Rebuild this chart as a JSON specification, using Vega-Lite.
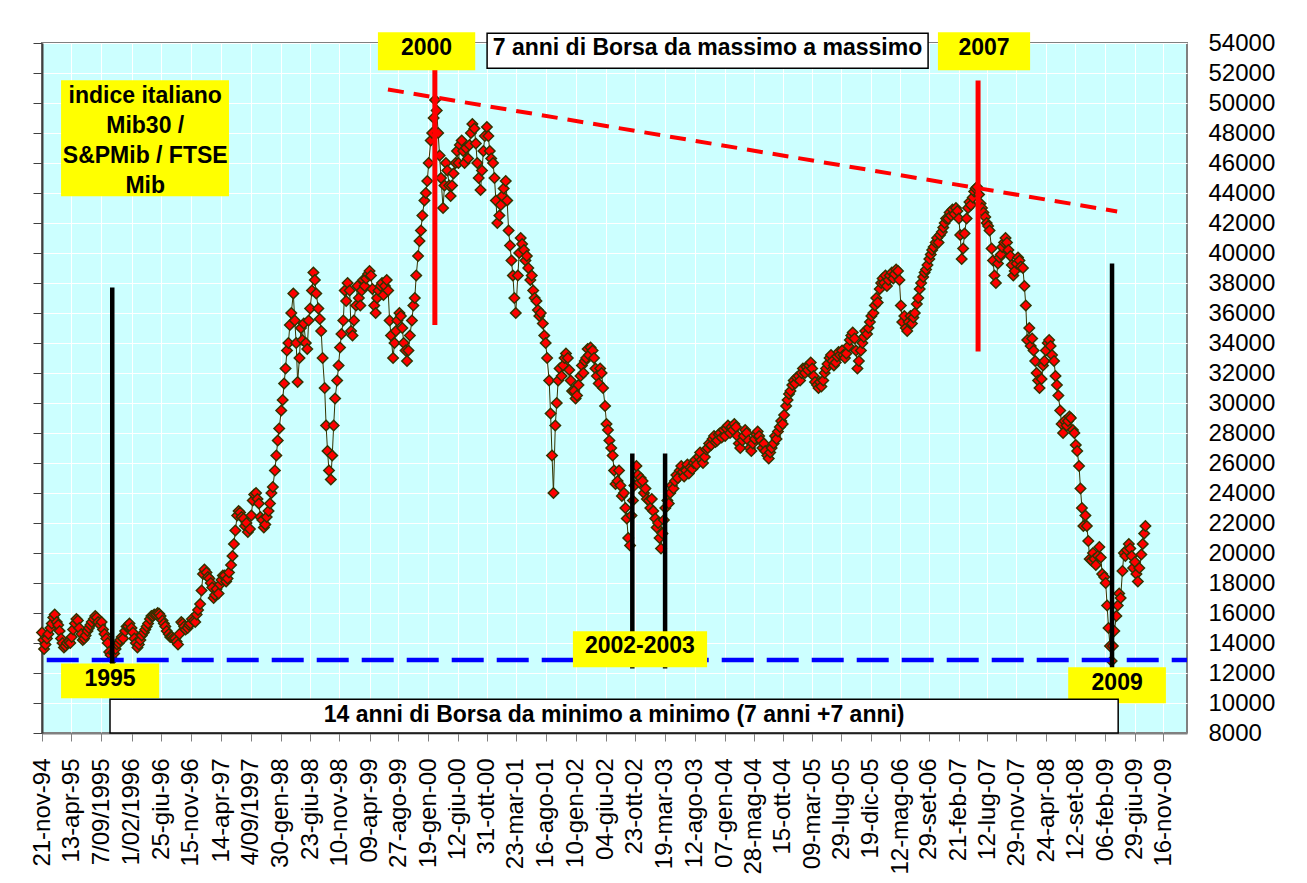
{
  "$schema": "https://vega.github.io/schema/vega-lite/v6.json",
  "width": 1145,
  "height": 690,
  "autosize": {"type": "none"},
  "padding": {"left": 42, "top": 43, "right": 120, "bottom": 150},
  "background": "white",
  "config": {
    "view": {"fill": "#CCFFFF", "stroke": "#808080", "strokeWidth": 2},
    "font": "Liberation Sans"
  },
  "datasets": {
    "mib": [
      {"d":"1994-11-21","v":14700},{"d":"1994-11-28","v":14200},{"d":"1994-12-01","v":13600},{"d":"1994-12-08","v":13900},{"d":"1994-12-15","v":14300},{"d":"1994-12-22","v":14600},
      {"d":"1995-01-01","v":15000},{"d":"1995-01-08","v":15300},{"d":"1995-01-15","v":15700},{"d":"1995-01-22","v":15900},{"d":"1995-02-01","v":15400},{"d":"1995-02-08","v":15200},{"d":"1995-02-15","v":14800},{"d":"1995-02-22","v":14300},
      {"d":"1995-03-01","v":14000},{"d":"1995-03-08","v":13700},{"d":"1995-03-15","v":13800},{"d":"1995-03-22","v":14000},{"d":"1995-04-01","v":14100},{"d":"1995-04-08","v":14000},{"d":"1995-04-15","v":14400},{"d":"1995-04-22","v":14900},
      {"d":"1995-05-01","v":15300},{"d":"1995-05-08","v":15600},{"d":"1995-05-15","v":15500},{"d":"1995-05-22","v":15000},{"d":"1995-06-01","v":14600},{"d":"1995-06-08","v":14200},{"d":"1995-06-15","v":14300},{"d":"1995-06-22","v":14500},
      {"d":"1995-07-01","v":14800},{"d":"1995-07-08","v":15000},{"d":"1995-07-15","v":15200},{"d":"1995-07-22","v":15400},{"d":"1995-08-01","v":15600},{"d":"1995-08-08","v":15800},{"d":"1995-08-15","v":15700},{"d":"1995-08-22","v":15400},
      {"d":"1995-09-01","v":15200},{"d":"1995-09-08","v":15400},{"d":"1995-09-15","v":14900},{"d":"1995-09-22","v":14600},{"d":"1995-10-01","v":14300},{"d":"1995-10-08","v":14000},{"d":"1995-10-15","v":13400},{"d":"1995-10-22","v":13200},
      {"d":"1995-11-01","v":12900},{"d":"1995-11-08","v":13300},{"d":"1995-11-15","v":13600},{"d":"1995-11-22","v":13900},{"d":"1995-12-01","v":14000},{"d":"1995-12-08","v":14200},{"d":"1995-12-15","v":14400},{"d":"1995-12-22","v":14300},
      {"d":"1996-01-01","v":14800},{"d":"1996-01-08","v":15100},{"d":"1996-01-15","v":15100},{"d":"1996-01-22","v":15300},{"d":"1996-02-01","v":15000},{"d":"1996-02-08","v":14700},{"d":"1996-02-15","v":14300},{"d":"1996-02-22","v":14000},
      {"d":"1996-03-01","v":13700},{"d":"1996-03-08","v":13900},{"d":"1996-03-15","v":14200},{"d":"1996-03-22","v":14500},{"d":"1996-04-01","v":14700},{"d":"1996-04-08","v":14900},{"d":"1996-04-15","v":15100},{"d":"1996-04-22","v":15300},
      {"d":"1996-05-01","v":15600},{"d":"1996-05-08","v":15800},{"d":"1996-05-15","v":15800},{"d":"1996-05-22","v":15900},{"d":"1996-06-01","v":15900},{"d":"1996-06-08","v":16000},{"d":"1996-06-15","v":15950},{"d":"1996-06-22","v":15800},
      {"d":"1996-07-01","v":15500},{"d":"1996-07-08","v":15300},{"d":"1996-07-15","v":15100},{"d":"1996-07-22","v":14800},{"d":"1996-08-01","v":14600},{"d":"1996-08-08","v":14400},{"d":"1996-08-15","v":14400},{"d":"1996-08-22","v":14300},
      {"d":"1996-09-01","v":14300},{"d":"1996-09-08","v":14100},{"d":"1996-09-15","v":13900},{"d":"1996-09-22","v":14600},{"d":"1996-10-01","v":15400},{"d":"1996-10-08","v":15300},{"d":"1996-10-15","v":15100},{"d":"1996-10-22","v":14900},
      {"d":"1996-11-01","v":15000},{"d":"1996-11-08","v":15200},{"d":"1996-11-15","v":15300},{"d":"1996-11-22","v":15600},{"d":"1996-12-01","v":15500},{"d":"1996-12-08","v":15400},{"d":"1996-12-15","v":15900},{"d":"1996-12-22","v":16200},
      {"d":"1997-01-01","v":16600},{"d":"1997-01-08","v":17500},{"d":"1997-01-15","v":18600},{"d":"1997-01-22","v":18900},{"d":"1997-02-01","v":18700},{"d":"1997-02-08","v":18400},{"d":"1997-02-15","v":18300},{"d":"1997-02-22","v":18000},
      {"d":"1997-03-01","v":17700},{"d":"1997-03-08","v":17000},{"d":"1997-03-15","v":17200},{"d":"1997-03-22","v":17600},{"d":"1997-04-01","v":17300},{"d":"1997-04-08","v":17900},{"d":"1997-04-15","v":18200},{"d":"1997-04-22","v":18500},
      {"d":"1997-05-01","v":18500},{"d":"1997-05-08","v":18100},{"d":"1997-05-15","v":18300},{"d":"1997-05-22","v":18700},{"d":"1997-06-01","v":19200},{"d":"1997-06-08","v":19800},{"d":"1997-06-15","v":20600},{"d":"1997-06-22","v":21500},
      {"d":"1997-07-01","v":22500},{"d":"1997-07-08","v":22800},{"d":"1997-07-15","v":22700},{"d":"1997-07-22","v":22400},{"d":"1997-08-01","v":22300},{"d":"1997-08-08","v":21800},{"d":"1997-08-15","v":22000},{"d":"1997-08-22","v":21400},
      {"d":"1997-09-01","v":21600},{"d":"1997-09-08","v":22500},{"d":"1997-09-15","v":23500},{"d":"1997-09-22","v":23900},{"d":"1997-10-01","v":24000},{"d":"1997-10-08","v":23600},{"d":"1997-10-15","v":23300},{"d":"1997-10-22","v":22400},
      {"d":"1997-11-01","v":22200},{"d":"1997-11-08","v":21700},{"d":"1997-11-15","v":21900},{"d":"1997-11-22","v":22400},{"d":"1997-12-01","v":22800},{"d":"1997-12-08","v":23300},{"d":"1997-12-15","v":24000},{"d":"1997-12-22","v":24400},
      {"d":"1998-01-01","v":25500},{"d":"1998-01-08","v":26500},{"d":"1998-01-15","v":27500},{"d":"1998-01-22","v":28300},{"d":"1998-02-01","v":29500},{"d":"1998-02-08","v":30200},{"d":"1998-02-15","v":31300},{"d":"1998-02-22","v":32300},
      {"d":"1998-03-01","v":33500},{"d":"1998-03-08","v":34000},{"d":"1998-03-15","v":35200},{"d":"1998-03-22","v":36000},{"d":"1998-04-01","v":37300},{"d":"1998-04-08","v":35500},{"d":"1998-04-15","v":34000},{"d":"1998-04-22","v":31400},
      {"d":"1998-05-01","v":33000},{"d":"1998-05-08","v":35000},{"d":"1998-05-15","v":34200},{"d":"1998-05-22","v":35300},{"d":"1998-06-01","v":34000},{"d":"1998-06-08","v":33600},{"d":"1998-06-15","v":35500},{"d":"1998-06-22","v":36300},
      {"d":"1998-07-01","v":37500},{"d":"1998-07-08","v":38700},{"d":"1998-07-15","v":38200},{"d":"1998-07-22","v":37300},{"d":"1998-08-01","v":36300},{"d":"1998-08-08","v":35600},{"d":"1998-08-15","v":34800},{"d":"1998-08-22","v":33000},
      {"d":"1998-09-01","v":31000},{"d":"1998-09-08","v":28500},{"d":"1998-09-15","v":26800},{"d":"1998-09-22","v":25500},{"d":"1998-10-01","v":24900},{"d":"1998-10-08","v":26500},{"d":"1998-10-15","v":28500},{"d":"1998-10-22","v":30300},
      {"d":"1998-11-01","v":31500},{"d":"1998-11-08","v":32500},{"d":"1998-11-15","v":33700},{"d":"1998-11-22","v":34600},{"d":"1998-12-01","v":35500},{"d":"1998-12-08","v":37500},{"d":"1998-12-15","v":36800},{"d":"1998-12-22","v":38000},
      {"d":"1999-01-01","v":37500},{"d":"1999-01-08","v":34800},{"d":"1999-01-15","v":34500},{"d":"1999-01-22","v":35500},{"d":"1999-02-01","v":36500},{"d":"1999-02-08","v":37800},{"d":"1999-02-15","v":37000},{"d":"1999-02-22","v":36500},
      {"d":"1999-03-01","v":37500},{"d":"1999-03-08","v":38200},{"d":"1999-03-15","v":37800},{"d":"1999-03-22","v":38300},{"d":"1999-04-01","v":38600},{"d":"1999-04-08","v":38800},{"d":"1999-04-15","v":38500},{"d":"1999-04-22","v":37600},
      {"d":"1999-05-01","v":36500},{"d":"1999-05-08","v":36000},{"d":"1999-05-15","v":37000},{"d":"1999-05-22","v":37500},{"d":"1999-06-01","v":37800},{"d":"1999-06-08","v":38000},{"d":"1999-06-15","v":37200},{"d":"1999-06-22","v":37800},
      {"d":"1999-07-01","v":38200},{"d":"1999-07-08","v":37500},{"d":"1999-07-15","v":35500},{"d":"1999-07-22","v":34500},{"d":"1999-08-01","v":33000},{"d":"1999-08-08","v":34000},{"d":"1999-08-15","v":34800},{"d":"1999-08-22","v":35500},
      {"d":"1999-09-01","v":36000},{"d":"1999-09-08","v":35800},{"d":"1999-09-15","v":35000},{"d":"1999-09-22","v":34000},{"d":"1999-10-01","v":33500},{"d":"1999-10-08","v":32800},{"d":"1999-10-15","v":33500},{"d":"1999-10-22","v":34500},
      {"d":"1999-11-01","v":35500},{"d":"1999-11-08","v":36500},{"d":"1999-11-15","v":37000},{"d":"1999-11-22","v":38500},{"d":"1999-12-01","v":39800},{"d":"1999-12-08","v":40800},{"d":"1999-12-15","v":41500},{"d":"1999-12-22","v":42500},
      {"d":"2000-01-01","v":43500},{"d":"2000-01-08","v":44000},{"d":"2000-01-15","v":44800},{"d":"2000-01-22","v":46000},{"d":"2000-02-01","v":47500},{"d":"2000-02-08","v":48000},{"d":"2000-02-15","v":49000},{"d":"2000-02-22","v":50200},
      {"d":"2000-03-01","v":49500},{"d":"2000-03-08","v":48000},{"d":"2000-03-15","v":46500},{"d":"2000-03-22","v":45000},{"d":"2000-04-01","v":43000},{"d":"2000-04-08","v":44500},{"d":"2000-04-15","v":46000},{"d":"2000-04-22","v":45500},
      {"d":"2000-05-01","v":44500},{"d":"2000-05-08","v":43800},{"d":"2000-05-15","v":44500},{"d":"2000-05-22","v":45300},{"d":"2000-06-01","v":46000},{"d":"2000-06-08","v":46800},{"d":"2000-06-15","v":46000},{"d":"2000-06-22","v":47200},
      {"d":"2000-07-01","v":47500},{"d":"2000-07-08","v":46800},{"d":"2000-07-15","v":46000},{"d":"2000-07-22","v":47000},{"d":"2000-08-01","v":46300},{"d":"2000-08-08","v":47200},{"d":"2000-08-15","v":48000},{"d":"2000-08-22","v":48600},
      {"d":"2000-09-01","v":48300},{"d":"2000-09-08","v":47300},{"d":"2000-09-15","v":46000},{"d":"2000-09-22","v":45000},{"d":"2000-10-01","v":44200},{"d":"2000-10-08","v":45500},{"d":"2000-10-15","v":46800},{"d":"2000-10-22","v":47800},
      {"d":"2000-11-01","v":48400},{"d":"2000-11-08","v":47800},{"d":"2000-11-15","v":46800},{"d":"2000-11-22","v":46300},{"d":"2000-12-01","v":46000},{"d":"2000-12-08","v":45000},{"d":"2000-12-15","v":43500},{"d":"2000-12-22","v":42000},
      {"d":"2001-01-01","v":42500},{"d":"2001-01-08","v":43200},{"d":"2001-01-15","v":43800},{"d":"2001-01-22","v":44300},{"d":"2001-02-01","v":44800},{"d":"2001-02-08","v":43500},{"d":"2001-02-15","v":41500},{"d":"2001-02-22","v":40500},
      {"d":"2001-03-01","v":39500},{"d":"2001-03-08","v":38500},{"d":"2001-03-15","v":37000},{"d":"2001-03-22","v":36000},{"d":"2001-04-01","v":38500},{"d":"2001-04-08","v":40000},{"d":"2001-04-15","v":41000},{"d":"2001-04-22","v":40600},
      {"d":"2001-05-01","v":40200},{"d":"2001-05-08","v":39500},{"d":"2001-05-15","v":39800},{"d":"2001-05-22","v":39000},{"d":"2001-06-01","v":38200},{"d":"2001-06-08","v":38500},{"d":"2001-06-15","v":37500},{"d":"2001-06-22","v":37000},
      {"d":"2001-07-01","v":36800},{"d":"2001-07-08","v":36200},{"d":"2001-07-15","v":35800},{"d":"2001-07-22","v":36000},{"d":"2001-08-01","v":35300},{"d":"2001-08-08","v":34500},{"d":"2001-08-15","v":34000},{"d":"2001-08-22","v":33000},
      {"d":"2001-09-01","v":31500},{"d":"2001-09-08","v":29300},{"d":"2001-09-15","v":26500},{"d":"2001-09-22","v":24000},{"d":"2001-10-01","v":28500},{"d":"2001-10-08","v":30000},{"d":"2001-10-15","v":31500},{"d":"2001-10-22","v":32300},
      {"d":"2001-11-01","v":31800},{"d":"2001-11-08","v":32500},{"d":"2001-11-15","v":33000},{"d":"2001-11-22","v":33300},{"d":"2001-12-01","v":33000},{"d":"2001-12-08","v":32200},{"d":"2001-12-15","v":31500},{"d":"2001-12-22","v":30800},
      {"d":"2002-01-01","v":30800},{"d":"2002-01-08","v":30300},{"d":"2002-01-15","v":30500},{"d":"2002-01-22","v":31200},{"d":"2002-02-01","v":31800},{"d":"2002-02-08","v":32500},{"d":"2002-02-15","v":32000},{"d":"2002-02-22","v":32800},
      {"d":"2002-03-01","v":33000},{"d":"2002-03-08","v":33600},{"d":"2002-03-15","v":33200},{"d":"2002-03-22","v":33700},{"d":"2002-04-01","v":33500},{"d":"2002-04-08","v":33000},{"d":"2002-04-15","v":32300},{"d":"2002-04-22","v":31800},
      {"d":"2002-05-01","v":31300},{"d":"2002-05-08","v":32300},{"d":"2002-05-15","v":32000},{"d":"2002-05-22","v":31000},{"d":"2002-06-01","v":29800},{"d":"2002-06-08","v":28600},{"d":"2002-06-15","v":28200},{"d":"2002-06-22","v":27500},
      {"d":"2002-07-01","v":27000},{"d":"2002-07-08","v":26500},{"d":"2002-07-15","v":25500},{"d":"2002-07-22","v":24600},{"d":"2002-08-01","v":24800},{"d":"2002-08-08","v":25500},{"d":"2002-08-15","v":24500},{"d":"2002-08-22","v":23800},
      {"d":"2002-09-01","v":24000},{"d":"2002-09-08","v":23000},{"d":"2002-09-15","v":22300},{"d":"2002-09-22","v":21000},{"d":"2002-10-01","v":20500},{"d":"2002-10-08","v":22500},{"d":"2002-10-15","v":23500},{"d":"2002-10-22","v":24500},
      {"d":"2002-11-01","v":25800},{"d":"2002-11-08","v":25200},{"d":"2002-11-15","v":24700},{"d":"2002-11-22","v":25000},{"d":"2002-12-01","v":24800},{"d":"2002-12-08","v":24000},{"d":"2002-12-15","v":24300},{"d":"2002-12-22","v":23600},
      {"d":"2003-01-01","v":23500},{"d":"2003-01-08","v":23000},{"d":"2003-01-15","v":23600},{"d":"2003-01-22","v":22800},{"d":"2003-02-01","v":22300},{"d":"2003-02-08","v":21700},{"d":"2003-02-15","v":22000},{"d":"2003-02-22","v":21000},
      {"d":"2003-03-01","v":20300},{"d":"2003-03-08","v":21300},{"d":"2003-03-15","v":22200},{"d":"2003-03-22","v":23000},{"d":"2003-04-01","v":23500},{"d":"2003-04-08","v":23300},{"d":"2003-04-15","v":24000},{"d":"2003-04-22","v":24500},
      {"d":"2003-05-01","v":24300},{"d":"2003-05-08","v":24800},{"d":"2003-05-15","v":25200},{"d":"2003-05-22","v":25000},{"d":"2003-06-01","v":25500},{"d":"2003-06-08","v":25800},{"d":"2003-06-15","v":25400},{"d":"2003-06-22","v":25100},
      {"d":"2003-07-01","v":25500},{"d":"2003-07-08","v":25900},{"d":"2003-07-15","v":25300},{"d":"2003-07-22","v":25700},{"d":"2003-08-01","v":25600},{"d":"2003-08-08","v":26000},{"d":"2003-08-15","v":26200},{"d":"2003-08-22","v":25900},
      {"d":"2003-09-01","v":26400},{"d":"2003-09-08","v":26700},{"d":"2003-09-15","v":26200},{"d":"2003-09-22","v":26000},{"d":"2003-10-01","v":26400},{"d":"2003-10-08","v":26900},{"d":"2003-10-15","v":27000},{"d":"2003-10-22","v":27300},
      {"d":"2003-11-01","v":27200},{"d":"2003-11-08","v":27600},{"d":"2003-11-15","v":27800},{"d":"2003-11-22","v":27400},{"d":"2003-12-01","v":27500},{"d":"2003-12-08","v":27900},{"d":"2003-12-15","v":28000},{"d":"2003-12-22","v":27700},
      {"d":"2004-01-01","v":28200},{"d":"2004-01-08","v":27800},{"d":"2004-01-15","v":28300},{"d":"2004-01-22","v":28500},{"d":"2004-02-01","v":28000},{"d":"2004-02-08","v":28400},{"d":"2004-02-15","v":28200},{"d":"2004-02-22","v":28600},
      {"d":"2004-03-01","v":28400},{"d":"2004-03-08","v":27800},{"d":"2004-03-15","v":27300},{"d":"2004-03-22","v":27000},{"d":"2004-04-01","v":27500},{"d":"2004-04-08","v":27800},{"d":"2004-04-15","v":28200},{"d":"2004-04-22","v":28000},
      {"d":"2004-05-01","v":27500},{"d":"2004-05-08","v":27000},{"d":"2004-05-15","v":26800},{"d":"2004-05-22","v":27300},{"d":"2004-06-01","v":27600},{"d":"2004-06-08","v":27900},{"d":"2004-06-15","v":28100},{"d":"2004-06-22","v":27800},
      {"d":"2004-07-01","v":27500},{"d":"2004-07-08","v":27000},{"d":"2004-07-15","v":27300},{"d":"2004-07-22","v":26800},{"d":"2004-08-01","v":26500},{"d":"2004-08-08","v":26300},{"d":"2004-08-15","v":26700},{"d":"2004-08-22","v":27000},
      {"d":"2004-09-01","v":27300},{"d":"2004-09-08","v":27800},{"d":"2004-09-15","v":27600},{"d":"2004-09-22","v":28100},{"d":"2004-10-01","v":28400},{"d":"2004-10-08","v":28800},{"d":"2004-10-15","v":28600},{"d":"2004-10-22","v":29200},
      {"d":"2004-11-01","v":29800},{"d":"2004-11-08","v":30200},{"d":"2004-11-15","v":30600},{"d":"2004-11-22","v":30800},{"d":"2004-12-01","v":31200},{"d":"2004-12-08","v":31500},{"d":"2004-12-15","v":31300},{"d":"2004-12-22","v":31700},
      {"d":"2005-01-01","v":31800},{"d":"2005-01-08","v":31500},{"d":"2005-01-15","v":32000},{"d":"2005-01-22","v":32300},{"d":"2005-02-01","v":32000},{"d":"2005-02-08","v":32400},{"d":"2005-02-15","v":32200},{"d":"2005-02-22","v":32500},
      {"d":"2005-03-01","v":32700},{"d":"2005-03-08","v":32300},{"d":"2005-03-15","v":31800},{"d":"2005-03-22","v":31400},{"d":"2005-04-01","v":31200},{"d":"2005-04-08","v":31000},{"d":"2005-04-15","v":31400},{"d":"2005-04-22","v":31100},
      {"d":"2005-05-01","v":31500},{"d":"2005-05-08","v":32000},{"d":"2005-05-15","v":32300},{"d":"2005-05-22","v":32600},{"d":"2005-06-01","v":33000},{"d":"2005-06-08","v":33200},{"d":"2005-06-15","v":32800},{"d":"2005-06-22","v":32500},
      {"d":"2005-07-01","v":32700},{"d":"2005-07-08","v":33100},{"d":"2005-07-15","v":33400},{"d":"2005-07-22","v":33200},{"d":"2005-08-01","v":33500},{"d":"2005-08-08","v":33200},{"d":"2005-08-15","v":33000},{"d":"2005-08-22","v":33300},
      {"d":"2005-09-01","v":33800},{"d":"2005-09-08","v":34200},{"d":"2005-09-15","v":34500},{"d":"2005-09-22","v":34700},{"d":"2005-10-01","v":34300},{"d":"2005-10-08","v":33500},{"d":"2005-10-15","v":32300},{"d":"2005-10-22","v":32800},
      {"d":"2005-11-01","v":33500},{"d":"2005-11-08","v":34000},{"d":"2005-11-15","v":34400},{"d":"2005-11-22","v":34800},{"d":"2005-12-01","v":34600},{"d":"2005-12-08","v":35000},{"d":"2005-12-15","v":35400},{"d":"2005-12-22","v":35800},
      {"d":"2006-01-01","v":36000},{"d":"2006-01-08","v":36500},{"d":"2006-01-15","v":37000},{"d":"2006-01-22","v":36700},{"d":"2006-02-01","v":37600},{"d":"2006-02-08","v":38000},{"d":"2006-02-15","v":38300},{"d":"2006-02-22","v":38000},
      {"d":"2006-03-01","v":38500},{"d":"2006-03-08","v":37800},{"d":"2006-03-15","v":38200},{"d":"2006-03-22","v":38500},{"d":"2006-04-01","v":38700},{"d":"2006-04-08","v":38300},{"d":"2006-04-15","v":38600},{"d":"2006-04-22","v":38900},
      {"d":"2006-05-01","v":38800},{"d":"2006-05-08","v":38200},{"d":"2006-05-15","v":36500},{"d":"2006-05-22","v":35400},{"d":"2006-06-01","v":35800},{"d":"2006-06-08","v":35000},{"d":"2006-06-15","v":34800},{"d":"2006-06-22","v":35400},
      {"d":"2006-07-01","v":35800},{"d":"2006-07-08","v":35300},{"d":"2006-07-15","v":35700},{"d":"2006-07-22","v":36000},{"d":"2006-08-01","v":36600},{"d":"2006-08-08","v":37000},{"d":"2006-08-15","v":37600},{"d":"2006-08-22","v":38000},
      {"d":"2006-09-01","v":38400},{"d":"2006-09-08","v":38700},{"d":"2006-09-15","v":38900},{"d":"2006-09-22","v":39200},{"d":"2006-10-01","v":39600},{"d":"2006-10-08","v":39900},{"d":"2006-10-15","v":40200},{"d":"2006-10-22","v":40400},
      {"d":"2006-11-01","v":40700},{"d":"2006-11-08","v":41000},{"d":"2006-11-15","v":40700},{"d":"2006-11-22","v":41200},{"d":"2006-12-01","v":41400},{"d":"2006-12-08","v":41700},{"d":"2006-12-15","v":42000},{"d":"2006-12-22","v":42300},
      {"d":"2007-01-01","v":42300},{"d":"2007-01-08","v":42700},{"d":"2007-01-15","v":42500},{"d":"2007-01-22","v":42900},{"d":"2007-02-01","v":42600},{"d":"2007-02-08","v":43000},{"d":"2007-02-15","v":42800},{"d":"2007-02-22","v":42300},
      {"d":"2007-03-01","v":41200},{"d":"2007-03-08","v":39600},{"d":"2007-03-15","v":40300},{"d":"2007-03-22","v":41300},{"d":"2007-04-01","v":42300},{"d":"2007-04-08","v":43000},{"d":"2007-04-15","v":43400},{"d":"2007-04-22","v":43200},
      {"d":"2007-05-01","v":43700},{"d":"2007-05-08","v":44100},{"d":"2007-05-15","v":44300},{"d":"2007-05-22","v":44400},{"d":"2007-06-01","v":43900},{"d":"2007-06-08","v":43300},{"d":"2007-06-15","v":43000},{"d":"2007-06-22","v":42700},
      {"d":"2007-07-01","v":42400},{"d":"2007-07-08","v":42000},{"d":"2007-07-15","v":41800},{"d":"2007-07-22","v":41500},{"d":"2007-08-01","v":40300},{"d":"2007-08-08","v":39500},{"d":"2007-08-15","v":38500},{"d":"2007-08-22","v":38000},
      {"d":"2007-09-01","v":39300},{"d":"2007-09-08","v":39700},{"d":"2007-09-15","v":39900},{"d":"2007-09-22","v":40400},{"d":"2007-10-01","v":40700},{"d":"2007-10-08","v":41000},{"d":"2007-10-15","v":40700},{"d":"2007-10-22","v":40200},
      {"d":"2007-11-01","v":39800},{"d":"2007-11-08","v":39200},{"d":"2007-11-15","v":38500},{"d":"2007-11-22","v":38800},{"d":"2007-12-01","v":39300},{"d":"2007-12-08","v":39700},{"d":"2007-12-15","v":39500},{"d":"2007-12-22","v":39100},
      {"d":"2008-01-01","v":39000},{"d":"2008-01-08","v":37800},{"d":"2008-01-15","v":36500},{"d":"2008-01-22","v":34200},{"d":"2008-02-01","v":35000},{"d":"2008-02-08","v":33800},{"d":"2008-02-15","v":34300},{"d":"2008-02-22","v":33500},
      {"d":"2008-03-01","v":32800},{"d":"2008-03-08","v":32000},{"d":"2008-03-15","v":31500},{"d":"2008-03-22","v":31000},{"d":"2008-04-01","v":31600},{"d":"2008-04-08","v":32500},{"d":"2008-04-15","v":32800},{"d":"2008-04-22","v":33500},
      {"d":"2008-05-01","v":34000},{"d":"2008-05-08","v":34200},{"d":"2008-05-15","v":33800},{"d":"2008-05-22","v":33200},{"d":"2008-06-01","v":32800},{"d":"2008-06-08","v":31800},{"d":"2008-06-15","v":31200},{"d":"2008-06-22","v":30500},
      {"d":"2008-07-01","v":29500},{"d":"2008-07-08","v":28600},{"d":"2008-07-15","v":28000},{"d":"2008-07-22","v":28800},{"d":"2008-08-01","v":28500},{"d":"2008-08-08","v":28800},{"d":"2008-08-15","v":29100},{"d":"2008-08-22","v":29000},
      {"d":"2008-09-01","v":28200},{"d":"2008-09-08","v":28000},{"d":"2008-09-15","v":27200},{"d":"2008-09-22","v":26800},{"d":"2008-10-01","v":25800},{"d":"2008-10-08","v":24300},{"d":"2008-10-15","v":23000},{"d":"2008-10-22","v":21800},
      {"d":"2008-11-01","v":22500},{"d":"2008-11-08","v":21800},{"d":"2008-11-15","v":20800},{"d":"2008-11-22","v":19600},{"d":"2008-12-01","v":19500},{"d":"2008-12-08","v":20000},{"d":"2008-12-15","v":19600},{"d":"2008-12-22","v":19200},
      {"d":"2009-01-01","v":19800},{"d":"2009-01-08","v":20400},{"d":"2009-01-15","v":19700},{"d":"2009-01-22","v":18600},{"d":"2009-02-01","v":18400},{"d":"2009-02-08","v":18000},{"d":"2009-02-15","v":16500},{"d":"2009-02-22","v":15000},
      {"d":"2009-03-01","v":13800},{"d":"2009-03-09","v":12800},{"d":"2009-03-15","v":13800},{"d":"2009-03-22","v":14800},{"d":"2009-04-01","v":15800},{"d":"2009-04-08","v":16500},{"d":"2009-04-15","v":17300},{"d":"2009-04-22","v":17000},
      {"d":"2009-05-01","v":18800},{"d":"2009-05-08","v":20000},{"d":"2009-05-15","v":19800},{"d":"2009-05-22","v":20200},{"d":"2009-06-01","v":20600},{"d":"2009-06-08","v":20300},{"d":"2009-06-15","v":19800},{"d":"2009-06-22","v":19000},
      {"d":"2009-07-01","v":19400},{"d":"2009-07-08","v":18600},{"d":"2009-07-15","v":18100},{"d":"2009-07-22","v":19000},{"d":"2009-08-01","v":19900},{"d":"2009-08-08","v":20600},{"d":"2009-08-15","v":21300},{"d":"2009-08-21","v":21800}
    ]
  },
  "layer": [
    {
      "data": {"name": "mib"},
      "mark": {"type": "line", "color": "#333300", "strokeWidth": 1},
      "encoding": {
        "x": {
          "field": "d", "type": "temporal",
          "scale": {"type": "utc", "domain": [785376000000, 1268352000000]},
          "axis": {
            "orient": "bottom", "title": null,
            "values": [785376000000,797731200000,810432000000,823132800000,835660800000,848016000000,860976000000,873331200000,886118400000,898560000000,910656000000,923616000000,935712000000,948240000000,960768000000,972950400000,985305600000,997920000000,1010620800000,1023148800000,1035331200000,1048032000000,1060646400000,1073433600000,1085702400000,1097798400000,1110326400000,1122595200000,1134950400000,1147392000000,1159488000000,1172016000000,1184198400000,1196294400000,1208995200000,1221177600000,1233878400000,1246233600000,1258329600000],
            "labelExpr": "['21-nov-94','13-apr-95','7/09/1995','1/02/1996','25-giu-96','15-nov-96','14-apr-97','4/09/1997','30-gen-98','23-giu-98','10-nov-98','09-apr-99','27-ago-99','19-gen-00','12-giu-00','31-ott-00','23-mar-01','16-ago-01','10-gen-02','04-giu-02','23-ott-02','19-mar-03','12-ago-03','07-gen-04','28-mag-04','15-ott-04','09-mar-05','29-lug-05','19-dic-05','12-mag-06','29-set-06','21-feb-07','12-lug-07','29-nov-07','24-apr-08','12-set-08','06-feb-09','29-giu-09','16-nov-09'][indexof([0,143,290,437,582,725,875,1018,1166,1310,1450,1600,1740,1885,2030,2171,2314,2460,2607,2752,2893,3040,3186,3334,3476,3616,3761,3903,4046,4190,4330,4475,4616,4756,4903,5044,5191,5334,5474], round((datum.value - 785376000000) / 86400000))]",
            "labelAngle": 270, "labelFontSize": 24, "labelFont": "Liberation Sans", "labelColor": "black",
            "labelPadding": 17, "labelFlush": false, "labelOverlap": false, "labelBound": false,
            "tickSize": 8, "tickColor": "#808080", "tickWidth": 1,
            "domainColor": "#808080", "domainWidth": 2,
            "grid": true, "gridColor": "white", "gridWidth": 1
          }
        },
        "y": {
          "field": "v", "type": "quantitative",
          "scale": {"domain": [8000, 54000], "nice": false, "zero": false},
          "axis": {
            "orient": "left", "title": null, "labels": false,
            "values": [8000,10000,12000,14000,16000,18000,20000,22000,24000,26000,28000,30000,32000,34000,36000,38000,40000,42000,44000,46000,48000,50000,52000,54000],
            "tickSize": 9, "tickColor": "#404040", "tickWidth": 1,
            "domainColor": "#404040", "domainWidth": 2, "grid": false
          }
        }
      }
    },
    {
      "data": {"name": "mib"},
      "mark": {"type": "point", "shape": "diamond", "filled": true, "fill": "#FF0000", "stroke": "#333300", "strokeWidth": 1.5, "size": 110, "opacity": 1},
      "encoding": {
        "x": {"field": "d", "type": "temporal", "axis": null},
        "y": {
          "field": "v", "type": "quantitative",
          "axis": {
            "orient": "right", "title": null, "format": "d",
            "values": [8000,10000,12000,14000,16000,18000,20000,22000,24000,26000,28000,30000,32000,34000,36000,38000,40000,42000,44000,46000,48000,50000,52000,54000],
            "labelFontSize": 24, "labelFont": "Liberation Sans", "labelColor": "black", "labelPadding": 21,
            "labelFlush": false, "labelOverlap": false, "labelBound": false,
            "ticks": false, "domain": false,
            "grid": true, "gridColor": "white", "gridWidth": 1
          }
        }
      }
    },
    {
      "data": {"values": [{"d": "1999-07-07", "v": 50900}, {"d": "2009-04-05", "v": 42770}]},
      "mark": {"type": "line", "color": "#FF0000", "strokeWidth": 4, "strokeDash": [16, 10]},
      "encoding": {
        "x": {"field": "d", "type": "temporal", "axis": null},
        "y": {"field": "v", "type": "quantitative", "axis": null}
      }
    },
    {
      "data": {"values": [{"d": "1994-12-14", "v": 12870}, {"d": "2010-03-12", "v": 12870}]},
      "mark": {"type": "line", "color": "#0000FF", "strokeWidth": 4.5, "strokeDash": [32, 13]},
      "encoding": {
        "x": {"field": "d", "type": "temporal", "axis": null},
        "y": {"field": "v", "type": "quantitative", "axis": null}
      }
    },
    {
      "data": {"values": [
        {"evento": "massimo 2000", "d": "2000-02-21", "v1": 35200, "v2": 54000},
        {"evento": "massimo 2007", "d": "2007-05-27", "v1": 33430, "v2": 51500}
      ]},
      "mark": {"type": "rule", "color": "#FF0000", "strokeWidth": 5},
      "encoding": {
        "x": {"field": "d", "type": "temporal", "axis": null},
        "y": {"field": "v1", "type": "quantitative", "axis": null},
        "y2": {"field": "v2"}
      }
    },
    {
      "data": {"values": [
        {"evento": "minimo 1995", "d": "1995-10-30", "v1": 12000, "v2": 37700},
        {"evento": "minimo 2002", "d": "2002-10-12", "v1": 12300, "v2": 26630},
        {"evento": "minimo 2003", "d": "2003-03-21", "v1": 12300, "v2": 26630},
        {"evento": "minimo 2009", "d": "2009-03-11", "v1": 12000, "v2": 39300}
      ]},
      "mark": {"type": "rule", "color": "#000000", "strokeWidth": 4.5},
      "encoding": {
        "x": {"field": "d", "type": "temporal", "axis": null},
        "y": {"field": "v1", "type": "quantitative", "axis": null},
        "y2": {"field": "v2"}
      }
    },
    {
      "data": {"values": [
        {"d1": "1999-05-19", "d2": "2000-09-05", "v1": 52180, "v2": 54710},
        {"d1": "2006-11-12", "d2": "2008-02-05", "v1": 52180, "v2": 54710},
        {"d1": "1995-02-22", "d2": "1997-05-22", "v1": 43780, "v2": 51510},
        {"d1": "1995-02-22", "d2": "1996-06-15", "v1": 10310, "v2": 12640},
        {"d1": "2001-12-26", "d2": "2003-10-12", "v1": 12380, "v2": 14780},
        {"d1": "2008-08-09", "d2": "2009-11-29", "v1": 9980, "v2": 12380}
      ]},
      "mark": {"type": "rect", "color": "#FFFF00"},
      "encoding": {
        "x": {"field": "d1", "type": "temporal", "axis": null},
        "x2": {"field": "d2"},
        "y": {"field": "v1", "type": "quantitative", "axis": null},
        "y2": {"field": "v2"}
      }
    },
    {
      "data": {"values": [
        {"d1": "2000-11-02", "d2": "2006-09-25", "v1": 52310, "v2": 54650},
        {"d1": "1995-10-19", "d2": "2009-04-10", "v1": 8000, "v2": 10250}
      ]},
      "mark": {"type": "rect", "fill": "#FFFFFF", "stroke": "#000000", "strokeWidth": 1.5},
      "encoding": {
        "x": {"field": "d1", "type": "temporal", "axis": null},
        "x2": {"field": "d2"},
        "y": {"field": "v1", "type": "quantitative", "axis": null},
        "y2": {"field": "v2"}
      }
    },
    {
      "data": {"values": [
        {"d": "2000-01-11", "v": 53650, "testo": "2000"},
        {"d": "2003-10-14", "v": 53650, "testo": "7 anni di Borsa da massimo a massimo"},
        {"d": "2007-06-25", "v": 53650, "testo": "2007"},
        {"d": "1996-04-08", "v": 50500, "testo": "indice italiano\nMib30 /\nS&PMib / FTSE\nMib"},
        {"d": "1995-10-19", "v": 11600, "testo": "1995"},
        {"d": "2002-07-15", "v": 9180, "testo": "14 anni di Borsa da minimo a minimo (7 anni +7 anni)"},
        {"d": "2002-11-18", "v": 13800, "testo": "2002-2003"},
        {"d": "2009-04-05", "v": 11350, "testo": "2009"}
      ]},
      "mark": {"type": "text", "font": "Liberation Sans", "fontWeight": "bold", "fontSize": 23, "color": "#000000", "align": "center", "baseline": "middle", "lineBreak": "\n", "lineHeight": 30},
      "encoding": {
        "x": {"field": "d", "type": "temporal", "axis": null},
        "y": {"field": "v", "type": "quantitative", "axis": null},
        "text": {"field": "testo", "type": "nominal"}
      }
    }
  ],
  "resolve": {"axis": {"x": "independent", "y": "independent"}}
}
